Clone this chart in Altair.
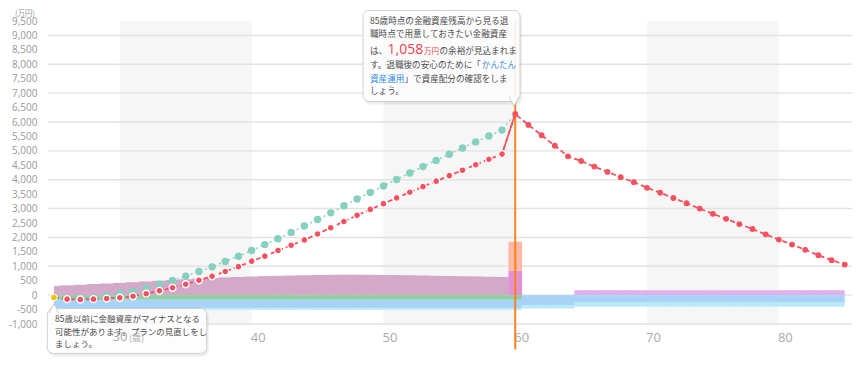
import altair as alt
import pandas as pd

JP = "Noto Sans CJK JP"
NUM = "Open Sans, Noto Sans CJK JP"

# ---------------- data ----------------
ages = list(range(25, 86))

# 金融資産残高（現状プラン）
red_values = [-80, -140, -150, -140, -120, -90, -40, 50, 150, 255, 378, 515, 653, 818, 986,
              1178, 1350, 1546, 1728, 1913, 2120, 2336, 2552, 2765, 2970, 3170, 3370, 3565,
              3760, 3950, 4140, 4330, 4520, 4705, 4889,
              6276, 5898, 5541, 5177, 4809, 4648, 4455, 4270, 4088, 3916, 3720, 3549, 3367,
              3185, 2999, 2817, 2645, 2463, 2291, 2106, 1924, 1752, 1570, 1384, 1213, 1058]

# 金融資産残高（運用した場合）
teal_ages = list(range(25, 61))
teal_values = [-80, -140, -130, -90, -10, 58, 137, 251, 375, 505, 660, 820, 980, 1168, 1350,
               1546, 1752, 1958, 2175, 2394, 2621, 2851, 3095, 3330, 3560, 3785, 4010, 4235,
               4455, 4670, 4885, 5100, 5310, 5515, 5719, 6276]

# 収入・支出（棒）
income_ages = list(range(25, 60))
income_values = [320, 340, 360, 385, 405, 425, 450, 475, 500, 525, 550, 575, 595, 615, 630,
                 645, 660, 670, 680, 690, 700, 705, 710, 710, 705, 700, 695, 690, 680, 670,
                 665, 655, 650, 640, 630]
retire_ages = [60]
retire_pay = [850]
retire_other = [1000]
pension_ages = list(range(65, 86))
pension_values = [170] * 21

saving_ages = list(range(25, 61))
saving_values = [-160] * 36
living_ages = ages
living_values = [-300] * 36 + [-345] * 4 + [-260] * 21
other_values = [-50] * 36 + [-115] * 4 + [-140] * 21

decade_start = [30, 50, 70]
decade_end = [40, 60, 80]
grid_values = [-1000, 0, 1000, 2000, 3000, 4000, 5000, 6000, 7000, 8000, 9000]
y_ticks = [-1000, -500, 0, 500, 1000, 1500, 2000, 2500, 3000, 3500, 4000, 4500, 5000,
           5500, 6000, 6500, 7000, 7500, 8000, 8500, 9000, 9500]
x_ticks = [40, 50, 60, 70, 80]
retirement_age = [60]

# ---------------- tables ----------------
pos_series = [("収入", income_ages, income_values),
              ("退職金", retire_ages, retire_pay),
              ("一時金", retire_ages, retire_other),
              ("年金", pension_ages, pension_values)]
neg_series = [("貯蓄", saving_ages, saving_values),
              ("生活費", living_ages, living_values),
              ("その他支出", living_ages, other_values)]
rows = []
top = {a: 0 for a in ages}
bot = {a: 0 for a in ages}
for name, al, vl in pos_series:
    for a, v in zip(al, vl):
        rows.append(dict(cat=name, x=max(a - 0.52, 25), x2=min(a + 0.52, 85), y=top[a], y2=top[a] + v))
        top[a] += v
for name, al, vl in neg_series:
    for a, v in zip(al, vl):
        rows.append(dict(cat=name, x=max(a - 0.52, 25), x2=min(a + 0.52, 85), y=bot[a], y2=bot[a] + v))
        bot[a] += v
bars_df = pd.DataFrame(rows)

red_df = pd.DataFrame({"age": ages, "v": red_values})
teal_df = pd.DataFrame({"age": teal_ages, "v": teal_values})
band_df = pd.DataFrame({"s": decade_start, "e": decade_end})
grid_df = pd.DataFrame({"g": grid_values})
rule_df = pd.DataFrame({"age": retirement_age})
one = pd.DataFrame({"a": [0]})

PT = 13          # top padding
H = 303          # plot height
DY = 11.5 - PT   # shift for pixel-placed annotations

xscale = alt.Scale(domain=[24.55, 85.55], nice=False, zero=False)
yscale = alt.Scale(domain=[-1000, 9500], nice=False, zero=False)

xaxis = alt.Axis(values=x_ticks, labelOffset=6, ticks=False, domain=False, grid=False,
                 labelColor="#aaaaaa", labelFontSize=13, labelFont=NUM, labelPadding=13,
                 labelBaseline="middle", title=None)
yaxis = alt.Axis(values=y_ticks, ticks=False, domain=False, grid=False,
                 labelExpr="replace(format(datum.value, ','), '\u2212', '-')",
                 labelColor="#999999", labelFontSize=10, labelFont=NUM, labelPadding=11,
                 title=None)


def X(f):
    return alt.X(f, scale=xscale, axis=xaxis)


def Y(f):
    return alt.Y(f, scale=yscale, axis=yaxis)


bands = alt.Chart(band_df).mark_rect(color="#f6f6f6").encode(
    x=X("s:Q"), x2="e:Q", y=alt.value(0), y2=alt.value(H))

grid = alt.Chart(grid_df).mark_rule(color="#e2e2e2", strokeWidth=1.4).encode(y=Y("g:Q"))

cats = ["収入", "退職金", "一時金", "年金", "貯蓄", "生活費", "その他支出"]
cols = ["#d4a8c9", "#e292d3", "#fdb8a6", "#dfb1ec", "#8fcea0", "#a7d3f7", "#b6eaf7"]
bars = alt.Chart(bars_df).mark_rect(opacity=1).encode(
    x=X("x:Q"), x2="x2:Q", y=Y("y:Q"), y2="y2:Q",
    color=alt.Color("cat:N", scale=alt.Scale(domain=cats, range=cols), legend=None))

rule = alt.Chart(rule_df).mark_rule(color="#f5841f", strokeWidth=2).encode(
    x=X("age:Q"), y=alt.value(0), y2=alt.value(330 + DY))

teal_line = alt.Chart(teal_df).mark_line(color="#86d0bf", strokeWidth=1.5, strokeDash=[2, 3]).encode(
    x=X("age:Q"), y=Y("v:Q"))
teal_pts = alt.Chart(teal_df).transform_filter("datum.age > 25 && datum.age < 60").mark_circle(
    color="#86d0bf", size=55, opacity=1).encode(x=X("age:Q"), y=Y("v:Q"))

red_line = alt.Chart(red_df).mark_line(color="#f5515f", strokeWidth=1.8, strokeDash=[5, 3]).encode(
    x=X("age:Q"), y=Y("v:Q"))
red_jump = alt.Chart(red_df).transform_filter("datum.age >= 59 && datum.age <= 60").mark_line(
    color="#f5515f", strokeWidth=1.6).encode(x=X("age:Q"), y=Y("v:Q"))
red_pre = alt.Chart(red_df).transform_filter("datum.age > 25 && datum.age < 60").mark_point(
    filled=True, fill="#f5515f", stroke="white", strokeWidth=1.3, size=48, opacity=1).encode(
    x=X("age:Q"), y=Y("v:Q"))
red_post = alt.Chart(red_df).transform_filter("datum.age >= 60").mark_circle(
    color="#f5515f", size=34, opacity=1).encode(x=X("age:Q"), y=Y("v:Q"))
yellow = alt.Chart(red_df).transform_filter("datum.age == 25").mark_point(
    filled=True, fill="#f7c10f", stroke="white", strokeWidth=1, size=45, opacity=1).encode(
    x=X("age:Q"), y=Y("v:Q"))


def box(x, x2, y, y2):
    y, y2 = y + DY, y2 + DY
    shadow = alt.Chart(one).mark_rect(color="#000000", opacity=0.07, cornerRadius=7).encode(
        x=alt.value(x + 1), x2=alt.value(x2 + 2), y=alt.value(y + 1.5), y2=alt.value(y2 + 3))
    body = alt.Chart(one).mark_rect(fill="white", fillOpacity=0.88, stroke="#cfcfcf",
                                    strokeWidth=1, cornerRadius=6).encode(
        x=alt.value(x), x2=alt.value(x2), y=alt.value(y), y2=alt.value(y2))
    return [shadow, body]


def pointer(x, y, shape):
    return alt.Chart(one).mark_point(shape=shape, filled=True, fill="white", stroke="#cfcfcf",
                                     strokeWidth=1, size=90, opacity=1).encode(
        x=alt.value(x), y=alt.value(y + DY))


def txt(t, x, y, color="#4a4a4a", size=8.6, font=JP, weight="normal", align="left",
        baseline="alphabetic"):
    return alt.Chart(one).mark_text(text=t, align=align, baseline=baseline, color=color,
                                    fontSize=size, font=font, fontWeight=weight).encode(
        x=alt.value(x), y=alt.value(y + DY))


RED = "#f0414f"
BLUE = "#3a8fe6"
annot = []
annot += box(315, 472, -9, 82)
annot.append(pointer(466, 82, "M-1,-1L0,1L1,-1"))
annot += [
    txt("85歳時点の金融資産残高から見る退", 322, 4),
    txt("職時点で用意しておきたい金融資産", 322, 17.5),
    txt("は、", 322, 34),
    txt("1,058", 339.5, 34, color=RED, size=14, font=NUM),
    txt("万円", 376, 34, color=RED, size=7.5),
    txt("の余裕が見込まれま", 391.5, 34),
    txt("す。退職後の安心のために「", 322, 48.3),
    txt("かんたん", 433.8, 48.3, color=BLUE),
    txt("資産運用", 322, 62.3, color=BLUE),
    txt("」で資産配分の確認をしま", 356.4, 62.3),
    txt("しょう。", 322, 74.7),
]
annot += box(-0.7, 158.7, 289, 334)
annot.append(pointer(6, 289, "M-1,1L0,-1L1,1"))
annot += [
    txt("85歳以前に金融資産がマイナスとなる", 7, 302.8, size=8.5),
    txt("可能性があります。プランの見直しをし", 7, 315.8, size=8.5),
    txt("ましょう。", 7, 327.5, size=8.5),
]

labels = [
    txt("(万円)", -23, -5.5, color="#999999", size=7.5, align="center", baseline="middle"),
    txt("30", 72, 317.5, color="#aaaaaa", size=13, font=NUM, align="center", baseline="middle"),
    txt("(歳)", 88.5, 318, color="#aaaaaa", size=9, align="center", baseline="middle"),
]

chart = alt.layer(bands, grid, bars, rule, teal_line, teal_pts, red_line, red_jump, red_pre,
                  red_post, yellow, *annot, *labels).properties(
    width=804, height=H,
    autosize=alt.AutoSizeParams(type="none"),
    padding={"left": 40, "top": PT, "right": 6, "bottom": 37},
    background="white",
).configure_view(stroke=None)

chart.save("out.html", embed_options={"renderer": "svg", "actions": False})
